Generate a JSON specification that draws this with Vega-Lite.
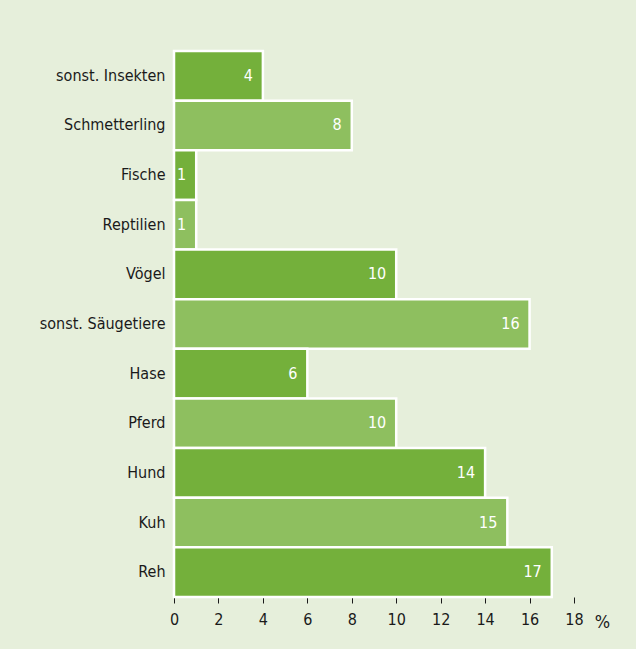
{
  "$schema": "https://vega.github.io/schema/vega-lite/v6.json",
  "autosize": "none",
  "width": 400,
  "height": 546,
  "padding": {"left": 174, "top": 51, "right": 62, "bottom": 52},
  "background": "#e6efdb",
  "config": {
    "view": {"stroke": null},
    "font": "DejaVu Sans Condensed, Roboto, sans-serif"
  },
  "data": {
    "values": [
      {"tier": "sonst. Insekten", "pct": 4},
      {"tier": "Schmetterling", "pct": 8},
      {"tier": "Fische", "pct": 1},
      {"tier": "Reptilien", "pct": 1},
      {"tier": "Vögel", "pct": 10},
      {"tier": "sonst. Säugetiere", "pct": 16},
      {"tier": "Hase", "pct": 6},
      {"tier": "Pferd", "pct": 10},
      {"tier": "Hund", "pct": 14},
      {"tier": "Kuh", "pct": 15},
      {"tier": "Reh", "pct": 17}
    ]
  },
  "encoding": {
    "y": {
      "field": "tier", "type": "nominal", "sort": null,
      "scale": {"paddingInner": 0, "paddingOuter": 0},
      "axis": {"title": null, "ticks": false, "domain": false, "labelPadding": 9, "labelFontSize": 16, "labelColor": "#1a1a1a", "labelFont": "DejaVu Sans Condensed, Roboto, sans-serif"}
    },
    "x": {
      "field": "pct", "type": "quantitative",
      "scale": {"domain": [0, 18], "nice": false},
      "axis": {"values": [0,2,4,6,8,10,12,14,16,18], "grid": false, "domain": false, "labelFlush": false, "tickColor": "#1a1a1a", "tickSize": 6, "tickWidth": 1, "labelFontSize": 16, "labelColor": "#1a1a1a", "labelPadding": 8, "labelFont": "DejaVu Sans Condensed, Roboto, sans-serif", "title": "%", "titleAngle": 0, "titleX": 428, "titleY": 30, "titleBaseline": "alphabetic", "titleAlign": "center", "titleFontSize": 18, "titleFontWeight": "normal", "titleColor": "#1a1a1a", "titleFont": "DejaVu Sans Condensed, Roboto, sans-serif"}
    }
  },
  "layer": [
    {
      "mark": {"type": "bar", "stroke": "white", "strokeWidth": 2.5},
      "encoding": {
        "color": {
          "field": "tier", "type": "nominal", "legend": null,
          "scale": {
            "domain": ["sonst. Insekten", "Schmetterling", "Fische", "Reptilien", "Vögel", "sonst. Säugetiere", "Hase", "Pferd", "Hund", "Kuh", "Reh"],
            "range": ["#74b03b", "#8ebf5f", "#74b03b", "#8ebf5f", "#74b03b", "#8ebf5f", "#74b03b", "#8ebf5f", "#74b03b", "#8ebf5f", "#74b03b"]
          }
        }
      }
    },
    {
      "mark": {"type": "text", "align": "right", "dx": -10, "color": "white", "fontSize": 16, "font": "DejaVu Sans Condensed, Roboto, sans-serif"},
      "encoding": {"text": {"field": "pct"}}
    }
  ]
}
